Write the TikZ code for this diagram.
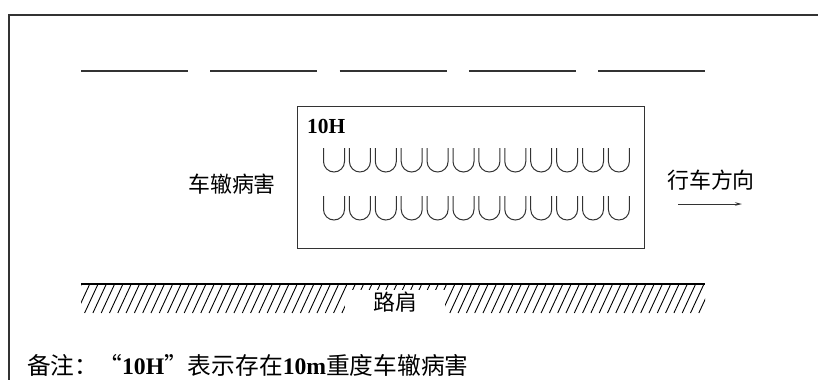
\documentclass[tikz,border=0pt]{standalone}
\usepackage{fontspec}
\setmainfont{Liberation Serif}
\newfontfamily\cjk{Noto Sans CJK SC}
\usetikzlibrary{arrows.meta}
\definecolor{ink}{HTML}{333333}
\begin{document}
\begin{tikzpicture}[x=1bp,y=-1bp,
  framel/.style={draw=ink,line width=1.3bp},
  lane/.style={draw=ink,line width=2bp},
  boxl/.style={draw=ink,line width=1.3bp},
  ushape/.style={draw=ink,line width=1bp},
  hatchl/.style={draw=black,line width=0.9bp},
  lab/.style={inner sep=0pt,font=\cjk\fontsize{22}{22}\selectfont},
]
\useasboundingbox (0,0) rectangle (818,380);
% frame
\draw[framel] (818,15) -- (9,15) -- (9,380);
% lane dashes
\foreach \i in {0,...,4}
  \draw[lane] ({81+129.3*\i},71) -- ++(107,0);
% box
\node[boxl,anchor=north west,minimum width=347bp,minimum height=142bp,inner sep=0pt] (box) at (297,106) {};
\node[anchor=west,inner sep=0pt,font=\bfseries\fontsize{21.5}{21.5}\selectfont] (lbl) at (307,126) {10H};
% U shapes
\foreach \r in {148,196}
  \foreach \i in {0,...,11}
    \draw[ushape] ({323.5+25.9*\i},\r) -- ++(0,13.5) arc[start angle=180,end angle=360,radius=10.5bp] -- ++(0,-13.5);
% labels
\node[lab] (rut) at (232,184) {车辙病害};
\node[lab] (dir) at (711,180) {行车方向};
\coordinate (a1) at (678,204);
\coordinate (a2) at (742,204);
\draw[ink,line width=1bp,-{Stealth[length=7bp,width=3.5bp]}] (a1) -- (a2);
% shoulder
\draw[black,line width=2bp] (81,284) -- (705,284);
\begin{scope}
  \clip (81,285) rectangle (705,313);
  \foreach \i in {0,...,78}
    \draw[hatchl] ({68+8.3*\i},313) -- ++(13,-28);
\end{scope}
\node[lab,fill=white,minimum width=100bp,minimum height=24bp] (jian) at (395,302) {路肩};
% note
\node[anchor=west,inner sep=0pt,font=\fontsize{23.8}{23.8}\selectfont] (note) at (27,365)
  {{\cjk 备注：“}\textbf{10H}{\cjk ”表示存在}\textbf{10m}{\cjk 重度车辙病害}};
\end{tikzpicture}
\end{document}
